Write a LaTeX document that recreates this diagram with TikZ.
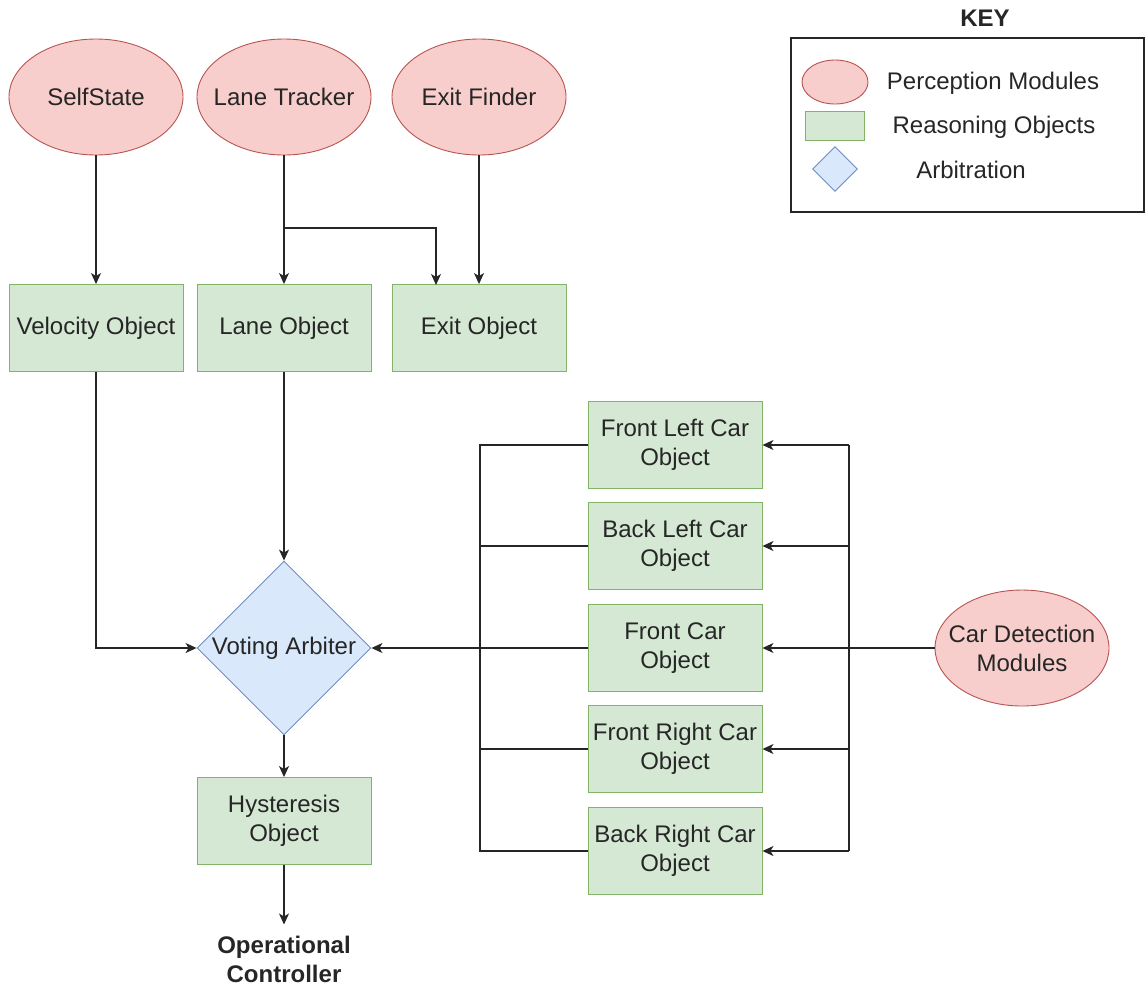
\documentclass[tikz,border=0pt]{standalone}
\usepackage{fontspec}
\setmainfont{Liberation Sans}
\usetikzlibrary{shapes.geometric,arrows.meta}
\definecolor{redfill}{HTML}{F8CECC}
\definecolor{redline}{HTML}{B85450}
\definecolor{greenfill}{HTML}{D5E8D4}
\definecolor{greenline}{HTML}{82B366}
\definecolor{bluefill}{HTML}{DAE8FC}
\definecolor{blueline}{HTML}{6C8EBF}
\tikzset{
  txt/.style={font=\fontsize{24}{29}\selectfont, text=black!85, align=center},
  perc/.style={txt, ellipse, draw=redline, fill=redfill, line width=0.9pt,
    minimum width=174, minimum height=116, inner xsep=-15pt, inner ysep=0pt},
  reason/.style={txt, rectangle, draw=greenline, fill=greenfill, line width=0.9pt,
    minimum width=174, minimum height=87, inner sep=0pt},
  arbit/.style={txt, diamond, aspect=1, draw=blueline, fill=bluefill, line width=0.9pt,
    minimum width=174, minimum height=174, inner sep=0pt},
  wire/.style={line width=1.3pt, black!85},
  arr/.style={wire, -{Stealth[length=11pt,width=10pt,inset=3pt]}},
}
\begin{document}
\begin{tikzpicture}[x=1pt,y=-1pt]
\useasboundingbox (0,0) rectangle (1145,986);

% perception modules
\node[perc] (ss) at (96,97) {SelfState};
\node[perc] (lt) at (284,97) {Lane Tracker};
\node[perc] (ef) at (479,97) {Exit Finder};
\node[perc] (cd) at (1022,648) {Car Detection\\Modules};

% reasoning objects
\node[reason] (vel) at (96,328) {Velocity Object};
\node[reason] (lo) at (284,328) {Lane Object};
\node[reason] (ex) at (479,328) {Exit Object};
\node[reason] (hy) at (284,821) {Hysteresis\\Object};

\node[reason] (fl) at (675,445) {Front Left Car\\Object};
\node[reason] (bl) at (675,546) {Back Left Car\\Object};
\node[reason] (fc) at (675,648) {Front Car\\Object};
\node[reason] (fr) at (675,749) {Front Right Car\\Object};
\node[reason] (br) at (675,851) {Back Right Car\\Object};

% arbitration
\node[arbit] (va) at (284,648) {Voting Arbiter};

% output
\node[txt, font=\fontsize{24}{29}\selectfont\bfseries, inner xsep=0pt, inner ysep=11pt]
  (oc) at (284,959) {Operational\\Controller};

% junction and bus points
\coordinate (j) at (284,228);
\coordinate (exin) at (436,285);
\coordinate (lbT) at (480,445);
\coordinate (lbB) at (480,851);
\coordinate (rbT) at (849,445);
\coordinate (rbB) at (849,851);

% top connectors
\draw[arr] (ss) -- (vel);
\draw[arr] (lt) -- (lo);
\draw[arr] (ef) -- (ex);
\draw[arr] (j) -| (exin);

% into the arbiter
\draw[arr] (vel.south) |- (va.west);
\draw[arr] (lo) -- (va);
\draw[arr] (fc) -- (va);
\draw[wire] (fl.west) -- (lbT) -- (lbB) -- (br.west);
\draw[wire] (bl.west) -- (bl.west -| lbT);
\draw[wire] (fr.west) -- (fr.west -| lbT);

% car detection fan-out
\draw[arr] (cd) -- (fc);
\draw[wire] (rbT) -- (rbB);
\draw[arr] (rbT) -- (fl.east);
\draw[arr] (bl.east -| rbT) -- (bl.east);
\draw[arr] (fr.east -| rbT) -- (fr.east);
\draw[arr] (rbB) -- (br.east);

% downstream
\draw[arr] (va) -- (hy);
\draw[arr] (hy) -- (oc);

% key
\node[txt, font=\fontsize{24}{29}\selectfont\bfseries] (keyt) at (985,18) {KEY};
\draw[line width=1.2pt, black!85] (791,38) rectangle (1144,212);
\node[ellipse, draw=redline, fill=redfill, line width=0.9pt, minimum width=66, minimum height=44, inner sep=0pt] (kp) at (835,82) {};
\node[rectangle, draw=greenline, fill=greenfill, line width=0.9pt, minimum width=59, minimum height=29, inner sep=0pt] (kr) at (835,126) {};
\node[diamond, aspect=1, draw=blueline, fill=bluefill, line width=0.9pt, minimum width=45, minimum height=45, inner sep=0pt] (ka) at (835,169) {};
\node[txt] (kpt) at (993,83) {Perception Modules};
\node[txt] (krt) at (994,127) {Reasoning Objects};
\node[txt] (kat) at (971,170) {Arbitration};
\end{tikzpicture}
\end{document}
